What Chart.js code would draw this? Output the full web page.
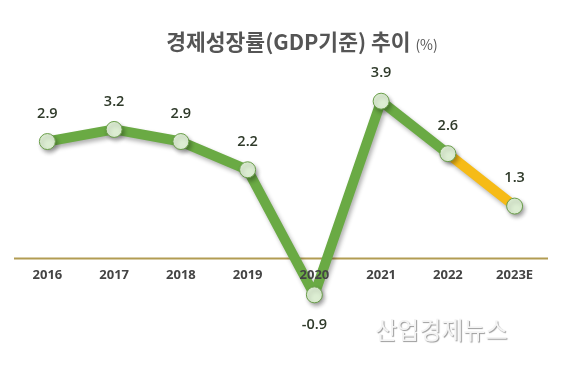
<!DOCTYPE html>
<html>
<head>
<meta charset="utf-8">
<script src="https://cdn.jsdelivr.net/npm/chart.js@4"></script>
<style>
  body { margin: 0; background: #fff; }
  #wrap { position: relative; width: 562px; height: 385px; overflow: hidden; }
  #wykres { position: absolute; left: 0; top: 0; }
  #tytul {
    position: absolute; left: 0; width: 562px; top: 25px; text-align: center;
    font-family: "Noto Sans CJK KR", "Noto Sans", sans-serif; font-weight: bold;
    font-size: 21.5px; color: #555; padding-left: 42px; box-sizing: border-box;
  }
  #tytul span { font-size: 14px; font-weight: normal; }
  #znak {
    position: absolute; left: 375px; top: 311px;
    font-family: "Noto Sans CJK KR", sans-serif; font-size: 24px; color: #f4f4f4;
    text-shadow: 1px 1px 1px #999, -1px -1px 0 #fff;
  }
</style>
</head>
<body>
<div id="wrap">
  <canvas id="wykres" width="562" height="385"></canvas>
  <div id="tytul">경제성장률(GDP기준) 추이 <span>(%)</span></div>
  <div id="znak">산업경제뉴스</div>
</div>
<script>
// dane
const lata = ['2016', '2017', '2018', '2019', '2020', '2021', '2022', '2023E'];
const wzrost = [2.9, 3.2, 2.9, 2.2, -0.9, 3.9, 2.6, 1.3];
const etykiety = ['2.9', '3.2', '2.9', '2.2', '-0.9', '3.9', '2.6', '1.3'];

const ZIELONY = '#6aaa44';
const ZOLTY = '#f6bb17';

// linia bazowa i cień pod serią
const tloPlugin = {
  id: 'tlo',
  beforeDatasetsDraw(chart) {
    const { ctx, chartArea } = chart;
    const y0 = chart.scales.y.getPixelForValue(0);
    ctx.save();
    ctx.strokeStyle = '#b29c52';
    ctx.lineWidth = 2;
    ctx.beginPath();
    ctx.moveTo(chartArea.left, y0);
    ctx.lineTo(chartArea.right, y0);
    ctx.stroke();
    ctx.restore();
    ctx.save();
    ctx.shadowColor = 'rgba(0,0,0,0.3)';
    ctx.shadowBlur = 4;
    ctx.shadowOffsetX = 2;
    ctx.shadowOffsetY = 3;
  },
  afterDatasetsDraw(chart) {
    const { ctx } = chart;
    ctx.restore();
    const x = chart.scales.x;
    const y = chart.scales.y;
    const y0 = y.getPixelForValue(0);
    ctx.save();
    ctx.textAlign = 'center';
    ctx.textBaseline = 'middle';
    // lata pod osią
    ctx.font = 'bold 13px "Open Sans", "Noto Sans", sans-serif';
    ctx.fillStyle = '#444';
    lata.forEach((l, i) => ctx.fillText(l, x.getPixelForValue(i), y0 + 17));
    // wartości
    ctx.font = '600 14.5px "Open Sans", "Noto Sans", sans-serif';
    ctx.fillStyle = '#2f3a2a';
    wzrost.forEach((v, i) => {
      const px = x.getPixelForValue(i);
      const py = y.getPixelForValue(v);
      ctx.fillText(etykiety[i], px, v < 0 ? py + 30 : py - 28);
    });
    ctx.restore();
  }
};

new Chart(document.getElementById('wykres'), {
  type: 'line',
  data: {
    labels: lata,
    datasets: [{
      data: wzrost,
      borderColor: ZIELONY,
      borderWidth: 10,
      borderJoinStyle: 'round',
      borderCapStyle: 'round',
      segment: {
        borderColor: c => (c.p0DataIndex === 6 ? ZOLTY : ZIELONY)
      },
      pointRadius: 8,
      pointBackgroundColor: '#dcedd2',
      pointBorderColor: '#6a9e4a',
      pointBorderWidth: 1,
      tension: 0,
      clip: false
    }]
  },
  options: {
    responsive: false,
    animation: false,
    layout: { padding: { left: 14, right: 14, top: 77, bottom: 70 } },
    plugins: { legend: { display: false }, tooltip: { enabled: false }, title: { display: false } },
    scales: {
      x: { display: false, offset: true },
      y: { display: false, min: -1.4, max: 4.5 }
    }
  },
  plugins: [tloPlugin]
});
</script>
</body>
</html>
